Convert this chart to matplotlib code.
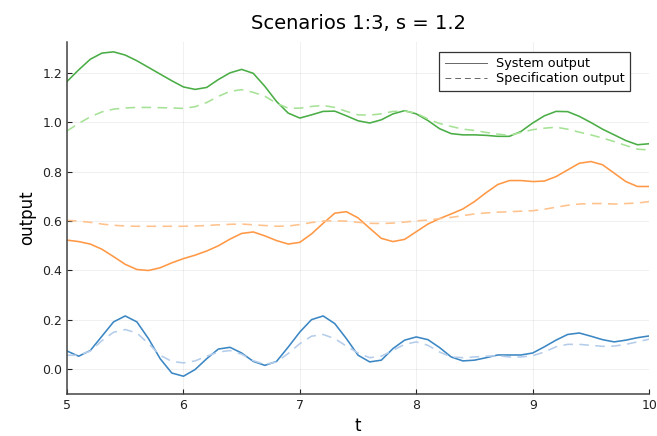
import numpy as np
import matplotlib.pyplot as plt

t = np.round(np.arange(5.0, 10.01, 0.1), 1)

# scenario 1
sys_1 = [0.074, 0.053, 0.076, 0.134, 0.192, 0.216, 0.192, 0.124, 0.043, -0.015,
         -0.028, -0.001, 0.043, 0.082, 0.089, 0.066, 0.032, 0.016, 0.032, 0.090,
         0.151, 0.201, 0.216, 0.185, 0.124, 0.057, 0.030, 0.037, 0.084, 0.118,
         0.131, 0.120, 0.088, 0.050, 0.034, 0.037, 0.047, 0.058, 0.058, 0.058,
         0.066, 0.091, 0.118, 0.141, 0.147, 0.134, 0.120, 0.111, 0.118, 0.128,
         0.135]
spec_1 = [0.057, 0.057, 0.074, 0.116, 0.150, 0.161, 0.147, 0.104, 0.057, 0.032,
          0.026, 0.034, 0.053, 0.070, 0.076, 0.061, 0.035, 0.020, 0.030, 0.064,
          0.104, 0.134, 0.141, 0.124, 0.094, 0.066, 0.047, 0.053, 0.077, 0.101,
          0.111, 0.097, 0.070, 0.050, 0.047, 0.050, 0.053, 0.055, 0.050, 0.050,
          0.055, 0.070, 0.091, 0.101, 0.101, 0.097, 0.093, 0.094, 0.101, 0.111,
          0.122]

# scenario 2
sys_2 = [0.523, 0.517, 0.507, 0.486, 0.456, 0.425, 0.404, 0.400, 0.411, 0.431,
         0.448, 0.462, 0.479, 0.500, 0.527, 0.550, 0.556, 0.540, 0.521, 0.507,
         0.514, 0.548, 0.591, 0.632, 0.638, 0.613, 0.571, 0.530, 0.517, 0.526,
         0.557, 0.588, 0.610, 0.629, 0.649, 0.679, 0.715, 0.748, 0.764, 0.764,
         0.760, 0.762, 0.780, 0.807, 0.834, 0.841, 0.828, 0.794, 0.760, 0.740,
         0.740]
spec_2 = [0.603, 0.600, 0.595, 0.588, 0.583, 0.580, 0.579, 0.579, 0.579, 0.579,
          0.579, 0.580, 0.582, 0.585, 0.587, 0.588, 0.585, 0.582, 0.579, 0.580,
          0.586, 0.594, 0.600, 0.601, 0.600, 0.595, 0.591, 0.590, 0.592, 0.596,
          0.601, 0.604, 0.610, 0.615, 0.622, 0.629, 0.633, 0.636, 0.638, 0.640,
          0.642, 0.648, 0.656, 0.664, 0.669, 0.671, 0.671, 0.669, 0.671, 0.673,
          0.679]

# scenario 3
sys_3 = [1.165, 1.212, 1.255, 1.280, 1.285, 1.272, 1.249, 1.222, 1.195, 1.168,
         1.143, 1.133, 1.141, 1.173, 1.200, 1.214, 1.198, 1.145, 1.084, 1.037,
         1.017, 1.030, 1.044, 1.045, 1.026, 1.006, 0.997, 1.010, 1.034, 1.047,
         1.034, 1.007, 0.974, 0.954, 0.949, 0.949, 0.947, 0.943, 0.943, 0.963,
         0.997, 1.026, 1.044, 1.043, 1.024, 0.999, 0.972, 0.949, 0.926, 0.909,
         0.913]
spec_3 = [0.965, 0.995, 1.022, 1.042, 1.053, 1.058, 1.060, 1.060, 1.059, 1.058,
          1.056, 1.063, 1.080, 1.105, 1.125, 1.132, 1.121, 1.105, 1.077, 1.057,
          1.057, 1.064, 1.068, 1.060, 1.044, 1.030, 1.029, 1.034, 1.044, 1.045,
          1.037, 1.013, 0.995, 0.983, 0.972, 0.967, 0.959, 0.952, 0.947, 0.959,
          0.970, 0.976, 0.980, 0.972, 0.960, 0.949, 0.936, 0.922, 0.906, 0.891,
          0.888]

sys_colors = ['#3b87c4', '#ff9845', '#4aad45']
spec_colors = ['#b5cdea', '#ffc28c', '#a6e296']

fig = plt.figure(figsize=(6.57, 4.36), dpi=100)
ax = fig.add_axes([0.102, 0.0963, 0.886, 0.808])

for s, sp, c1, c2 in zip([sys_1, sys_2, sys_3], [spec_1, spec_2, spec_3], sys_colors, spec_colors):
    ax.plot(t, s, color=c1, lw=1.15)
    ax.plot(t, sp, color=c2, lw=1.15, ls=(0, (6, 4)))

# legend proxies
ax.plot([], [], color='#666666', lw=0.7, label='System output')
ax.plot([], [], color='#666666', lw=0.7, ls=(0, (6, 4)), label='Specification output')
leg = ax.legend(loc='upper right', bbox_to_anchor=(0.968, 0.972), fontsize=9.2,
                frameon=True, fancybox=False, handlelength=3.3, borderpad=0.45,
                labelspacing=0.15, handletextpad=0.7, borderaxespad=0.0)
leg.get_frame().set_edgecolor('#333333')
leg.get_frame().set_linewidth(0.9)
leg.get_frame().set_alpha(1.0)

ax.set_xlim(5, 10)
ax.set_ylim(-0.1, 1.326)
ax.set_xticks([5, 6, 7, 8, 9, 10])
ax.set_yticks([0.0, 0.2, 0.4, 0.6, 0.8, 1.0, 1.2])
ax.set_yticklabels(['0.0', '0.2', '0.4', '0.6', '0.8', '1.0', '1.2'])
ax.grid(True, color='#000000', alpha=0.07, lw=0.6)
ax.tick_params(direction='in', length=3.5, width=0.8, labelsize=9, colors='#222222')
for side in ['top', 'right']:
    ax.spines[side].set_visible(False)
for side in ['left', 'bottom']:
    ax.spines[side].set_color('#444444')
    ax.spines[side].set_linewidth(1.1)

ax.set_xlabel('t', fontsize=12)
ax.set_ylabel('output', fontsize=12)
ax.set_title('Scenarios 1:3, s = 1.2', fontsize=14, pad=9)

fig.savefig('out.png', dpi=100)
